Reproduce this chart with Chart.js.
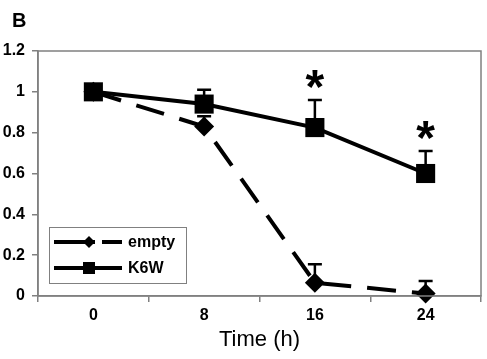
<!DOCTYPE html>
<html>
<head>
<meta charset="utf-8">
<script src="https://cdn.jsdelivr.net/npm/chart.js@4"></script>
<style>
    body { margin: 0; background: #fff; }
    #wrap { position: relative; width: 487px; height: 359px; }
    #panel { position: absolute; left: 12px; top: 9px; line-height: 1; font: bold 20px "Liberation Sans", Arial, sans-serif; }
</style>
</head>
<body>
<div id="wrap">
    <canvas id="chart" width="487" height="359"></canvas>
    <div id="panel">B</div>
</div>
<script>
// Time points (h)
var timeLabels = ['0', '8', '16', '24'];

// Relative values
var emptyValues = [1.0, 0.83, 0.065, 0.012];
var emptyErrors = [0, 0.05, 0.09, 0.062];
var k6wValues = [1.0, 0.94, 0.825, 0.60];
var k6wErrors = [0, 0.07, 0.135, 0.11];

// Significance marks shown above the K6W points
var starMarks = ['', '', '*', '*'];

var yTicks = [0, 0.2, 0.4, 0.6, 0.8, 1, 1.2];

var frameColor = '#808080';
var tickFont = { family: '"Liberation Sans", Arial, sans-serif', size: 16, weight: 'bold' };

// Upper error bars, drawn below the markers
var errorBarPlugin = {
    id: 'errorBars',
    beforeDatasetsDraw: function(chart) {
        var ctx = chart.ctx;
        var x = chart.scales.x;
        var y = chart.scales.y;
        var sets = [[emptyValues, emptyErrors], [k6wValues, k6wErrors]];
        ctx.save();
        ctx.strokeStyle = '#000';
        ctx.lineWidth = 2.5;
        sets.forEach(function(s) {
            for (var i = 0; i < s[0].length; i++) {
                if (!s[1][i]) continue;
                var px = x.getPixelForValue(i);
                var p0 = y.getPixelForValue(s[0][i]);
                var p1 = y.getPixelForValue(s[0][i] + s[1][i]);
                ctx.beginPath();
                ctx.moveTo(px, p0);
                ctx.lineTo(px, p1);
                ctx.moveTo(px - 7, p1);
                ctx.lineTo(px + 7, p1);
                ctx.stroke();
            }
        });
        ctx.restore();
    },
    afterDatasetsDraw: function(chart) {
        var ctx = chart.ctx;
        var x = chart.scales.x;
        var y = chart.scales.y;
        var area = chart.chartArea;
        ctx.save();

        // frame round the plot area
        ctx.strokeStyle = frameColor;
        ctx.lineWidth = 1.5;
        ctx.strokeRect(area.left, area.top, area.right - area.left, area.bottom - area.top);

        // asterisks
        ctx.fillStyle = '#000';
        ctx.font = 'bold 48px "Liberation Sans", Arial, sans-serif';
        ctx.textAlign = 'center';
        ctx.textBaseline = 'middle';
        for (var i = 0; i < starMarks.length; i++) {
            if (!starMarks[i]) continue;
            var top = y.getPixelForValue(k6wValues[i] + k6wErrors[i]);
            ctx.fillText(starMarks[i], x.getPixelForValue(i), top - 10);
        }

        // legend box in the lower left corner
        var lx = area.left + 11, ly = area.bottom - 69;
        ctx.fillStyle = '#fff';
        ctx.fillRect(lx, ly, 137, 56);
        ctx.strokeStyle = frameColor;
        ctx.lineWidth = 1;
        ctx.strokeRect(lx + 0.5, ly + 0.5, 137, 56);

        var rows = [
            { label: 'empty', dash: [41, 7], y: ly + 15, shape: 'diamond' },
            { label: 'K6W', dash: [], y: ly + 41, shape: 'square' }
        ];
        rows.forEach(function(r) {
            ctx.strokeStyle = '#000';
            ctx.lineWidth = 4;
            ctx.setLineDash(r.dash);
            ctx.beginPath();
            ctx.moveTo(lx + 5, r.y);
            ctx.lineTo(lx + 73, r.y);
            ctx.stroke();
            ctx.setLineDash([]);
            ctx.fillStyle = '#000';
            var mx = lx + 40;
            ctx.beginPath();
            if (r.shape === 'diamond') {
                ctx.moveTo(mx, r.y - 6);
                ctx.lineTo(mx + 6, r.y);
                ctx.lineTo(mx, r.y + 6);
                ctx.lineTo(mx - 6, r.y);
                ctx.closePath();
            } else {
                ctx.rect(mx - 6, r.y - 6, 12, 12);
            }
            ctx.fill();
            ctx.font = 'bold 16px "Liberation Sans", Arial, sans-serif';
            ctx.textAlign = 'left';
            ctx.textBaseline = 'middle';
            ctx.fillText(r.label, lx + 79, r.y + 1);
        });
        ctx.restore();
    }
};

var ctx = document.getElementById('chart').getContext('2d');
var myChart = new Chart(ctx, {
    type: 'line',
    data: {
        labels: timeLabels,
        datasets: [
            {
                label: 'K6W',
                data: k6wValues,
                borderColor: '#000',
                backgroundColor: '#000',
                borderWidth: 4,
                pointStyle: 'rect',
                pointRadius: 13.5,
                pointBorderWidth: 0,
                tension: 0,
                clip: false
            },
            {
                label: 'empty',
                data: emptyValues,
                borderColor: '#000',
                backgroundColor: '#000',
                borderWidth: 4,
                borderDash: [29, 16],
                pointStyle: 'rectRot',
                pointRadius: 10,
                pointBorderWidth: 0,
                tension: 0,
                clip: false
            }
        ]
    },
    options: {
        responsive: false,
        animation: false,
        devicePixelRatio: 1,
        layout: { autoPadding: false, padding: { top: 51, right: 6, left: 0, bottom: 0 } },
        scales: {
            x: {
                offset: true,
                grid: { offset: true, drawOnChartArea: false, color: frameColor, tickLength: 6, lineWidth: 1.5 },
                border: { color: frameColor, width: 1.5 },
                ticks: { color: '#000', font: tickFont, padding: 4 },
                title: {
                    display: true,
                    text: 'Time (h)',
                    color: '#000',
                    font: { family: '"Liberation Sans", Arial, sans-serif', size: 22 },
                    padding: { top: 0, bottom: 6 }
                },
                afterFit: function(scale) {
                    scale.height = 63;
                    scale.paddingLeft = 0;
                    scale.paddingRight = 0;
                }
            },
            y: {
                min: 0,
                max: 1.2,
                afterBuildTicks: function(scale) {
                    scale.ticks = yTicks.map(function(v) { return { value: v }; });
                },
                grid: { drawOnChartArea: false, color: frameColor, tickLength: 6, lineWidth: 1.5 },
                border: { color: frameColor, width: 1.5 },
                ticks: {
                    color: '#000',
                    font: tickFont,
                    padding: 7,
                    callback: function(v) { return String(Math.round(v * 10) / 10); }
                },
                afterFit: function(scale) { scale.width = 38; }
            }
        },
        plugins: {
            legend: { display: false },
            tooltip: { enabled: false }
        }
    },
    plugins: [errorBarPlugin]
});
</script>
</body>
</html>
